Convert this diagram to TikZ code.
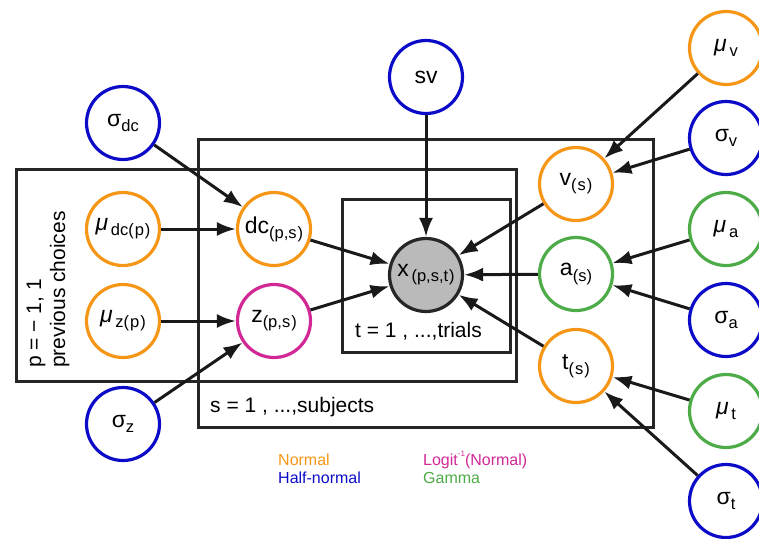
\documentclass[tikz,border=0pt]{standalone}
\usepackage{fontspec}
\setmainfont{Liberation Sans}
\usetikzlibrary{arrows.meta}

\definecolor{normalc}{RGB}{246,150,22}
\definecolor{halfc}{RGB}{12,12,200}
\definecolor{gammac}{RGB}{78,172,72}
\definecolor{logitc}{RGB}{210,40,150}

% main letter with a lowered, smaller index
\newcommand{\idx}[2]{#1\raisebox{-0.22em}{\fontsize{16.5}{16.5}\selectfont #2}}

\tikzset{
  var/.style={circle, draw, line width=3.2pt, minimum size=73pt, inner sep=0pt,
    font=\fontsize{23}{23}\selectfont},
  normalnode/.style={var, draw=normalc},
  halfnode/.style={var, draw=halfc},
  gammanode/.style={var, draw=gammac},
  logitnode/.style={var, draw=logitc},
  datanode/.style={var, draw=black!85, fill=black!27},
  plate/.style={draw=black!85, line width=3pt},
  platelabel/.style={inner sep=0pt, font=\fontsize{21}{21}\selectfont},
  legend/.style={inner sep=0pt, anchor=west, font=\fontsize{16}{16}\selectfont},
  edge/.style={-{Latex[length=19pt,width=14pt]}, line width=3pt, black!90},
}

\begin{document}
\begin{tikzpicture}[x=1pt, y=-1pt]
  \useasboundingbox (0,0) rectangle (759,538);
  \clip (0,0) rectangle (759,538);

  % plates
  \draw[plate] (198,139) rectangle (653,427);
  \draw[plate] (16,169) rectangle (516,381);
  \draw[plate] (342,199) rectangle (510,352);
  \node[platelabel, anchor=west] (splate) at (210,407) {s = 1 , ...,subjects};
  \node[platelabel, anchor=west] (tplate) at (355,331) {t = 1 , ...,trials};
  \node[platelabel, rotate=90, anchor=base west] (pplate) at (41,368) {p = − 1, 1};
  \node[platelabel, rotate=90, anchor=base west] (pchoice) at (65,368) {previous choices};

  % group level
  \node[halfnode] (sdc) at (123,123) {\idx{σ}{dc}};
  \node[normalnode] (mdc) at (123,229) {\idx{\textit{μ}}{\,dc(\kern1pt p\kern1pt)}};
  \node[normalnode] (mz) at (123,321) {\idx{\textit{μ}}{\,z(\kern1pt p\kern1pt)}};
  \node[halfnode] (sz) at (123,424) {\idx{σ}{z}};
  \node[halfnode] (sv) at (426,77) {sv};

  \node[normalnode] (mv) at (726,48) {\idx{\textit{μ}}{\,v}};
  \node[halfnode] (sgv) at (726,138) {\idx{σ}{v}};
  \node[gammanode] (ma) at (726,229) {\idx{\textit{μ}}{\,a}};
  \node[halfnode] (sa) at (726,320) {\idx{σ}{a}};
  \node[gammanode] (mt) at (726,411) {\idx{\textit{μ}}{\,t}};
  \node[halfnode] (st) at (726,501) {\idx{σ}{t}};

  % subject level
  \node[normalnode] (dc) at (274,229) {\idx{dc}{(p,s\kern1pt)}};
  \node[logitnode] (z) at (274,321) {\idx{z}{(p,s\kern1pt)}};
  \node[normalnode] (v) at (576,184) {\idx{v}{(\kern1pt s\kern1pt)}};
  \node[gammanode] (a) at (576,274) {\idx{a}{(s)}};
  \node[normalnode] (t) at (576,366) {\idx{t}{(\kern1pt s\kern1pt)}};

  % trial level
  \node[datanode] (x) at (426,275) {\idx{x}{\,(p,s,t\kern1pt)}};

  \draw[edge] (sv) -- (x);
  \draw[edge] (sdc) -- (dc);
  \draw[edge] (mdc) -- (dc);
  \draw[edge] (mz) -- (z);
  \draw[edge] (sz) -- (z);
  \draw[edge] (dc) -- (x);
  \draw[edge] (z) -- (x);
  \draw[edge] (v) -- (x);
  \draw[edge] (a) -- (x);
  \draw[edge] (t) -- (x);
  \draw[edge] (mv) -- (v);
  \draw[edge] (sgv) -- (v);
  \draw[edge] (ma) -- (a);
  \draw[edge] (sa) -- (a);
  \draw[edge] (mt) -- (t);
  \draw[edge] (st) -- (t);

  % legend
  \node[legend, text=normalc] (lnormal) at (278,460) {Normal};
  \node[legend, text=halfc] (lhalf) at (278,478) {Half-normal};
  \node[legend, text=logitc] (llogit) at (423,460)
    {Logit\raisebox{0.55em}{\fontsize{8}{8}\selectfont -1}(Normal)};
  \node[legend, text=gammac] (lgamma) at (423,478) {Gamma};
\end{tikzpicture}
\end{document}
